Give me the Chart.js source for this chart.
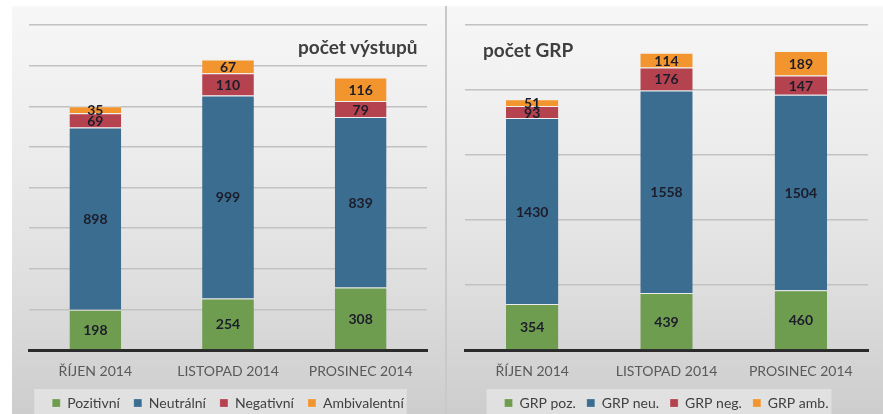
<!DOCTYPE html>
<html>
<head>
<meta charset="utf-8">
<script src="https://cdn.jsdelivr.net/npm/chart.js@4.4.1/dist/chart.umd.min.js"></script>
<style>
  html, body { margin: 0; padding: 0; background: #fff; }
  body { width: 883px; height: 414px; position: relative; overflow: hidden; font-family: Lato, "Open Sans", sans-serif; }
  .panel {
    position: absolute; top: 6px; height: 408px;
    background: linear-gradient(to bottom, #f7f7f7 0%, #ececec 35%, #e0e0e0 65%, #cdcdcd 100%);
  }
  #panelLeft { left: 12px; width: 433px; }
  #panelRight { left: 447px; width: 436px; }
  #divider { position: absolute; left: 445px; top: 6px; width: 2px; height: 408px; background: #c9c9c9; }
  .ttl { position: absolute; font-weight: bold; font-size: 19px; color: #3f3f3f; }
</style>
</head>
<body>
<div id="panelLeft" class="panel"><canvas id="vystupyChart" width="433" height="408"></canvas></div>
<div id="divider"></div>
<div id="panelRight" class="panel"><canvas id="grpChart" width="436" height="408"></canvas></div>
<div class="ttl" style="left:298px; top:35px;">počet výstupů</div>
<div class="ttl" style="left:483px; top:38px;">počet GRP</div>
<script>
const months = ['ŘÍJEN 2014', 'LISTOPAD 2014', 'PROSINEC 2014'];

// počet výstupů
const pozitivni = [198, 254, 308];
const neutralni = [898, 999, 839];
const negativni = [69, 110, 79];
const ambivalentni = [35, 67, 116];

// počet GRP
const grpPoz = [354, 439, 460];
const grpNeu = [1430, 1558, 1504];
const grpNeg = [93, 176, 147];
const grpAmb = [51, 114, 189];

const cGreen = '#6e9d4f';
const cBlue = '#3a6d90';
const cRed = '#b5424f';
const cOrange = '#f2952f';

const fontFam = 'Lato, "Open Sans", sans-serif';

// numbers in the middle of each segment
const valueLabels = {
    id: 'valueLabels',
    afterDatasetsDraw(chart) {
        const ctx = chart.ctx;
        ctx.save();
        ctx.font = 'bold 14px ' + fontFam;
        ctx.textAlign = 'center';
        ctx.textBaseline = 'middle';
        ctx.fillStyle = '#1c1c2a';
        chart.data.datasets.forEach((ds, i) => {
            const meta = chart.getDatasetMeta(i);
            meta.data.forEach((bar, j) => {
                const p = bar.getProps(['x', 'y', 'base'], true);
                ctx.fillText(ds.data[j], p.x, (p.y + p.base) / 2 + 1);
            });
        });
        ctx.restore();
    }
};

// lighter box behind the legend
const legendBox = {
    id: 'legendBox',
    beforeDraw(chart) {
        const lg = chart.legend;
        if (!lg || !lg.legendHitBoxes.length) return;
        const hb = lg.legendHitBoxes;
        const x0 = hb[0].left - 18;
        const x1 = hb[hb.length - 1].left + hb[hb.length - 1].width + 3;
        const y0 = hb[0].top - 7;
        const ctx = chart.ctx;
        ctx.save();
        ctx.fillStyle = 'rgba(236,236,236,0.6)';
        ctx.fillRect(x0, y0, x1 - x0, chart.height - y0);
        ctx.restore();
    }
};

function makeChart(id, labels, sets, yMax, yStep, pad, legendPad) {
    return new Chart(document.getElementById(id), {
        type: 'bar',
        data: {
            labels: labels,
            datasets: sets.map(s => ({
                label: s[0],
                data: s[1],
                backgroundColor: s[2],
                borderColor: 'rgba(240,240,240,0.8)',
                borderWidth: { top: 1, left: 0, right: 0, bottom: 0 },
                borderSkipped: false,
                categoryPercentage: 1,
                barPercentage: 0.39
            }))
        },
        options: {
            responsive: false,
            animation: false,
            layout: { padding: { left: pad[0], right: pad[1], top: 19, bottom: -6 } },
            scales: {
                x: {
                    stacked: true,
                    grid: { display: false, drawTicks: false },
                    border: { display: true, color: '#2b2b2b', width: 3 },
                    ticks: { color: '#595959', font: { size: 14, family: fontFam }, padding: 13 },
                    afterFit(scale) { scale.height = 46 - legendPad; }
                },
                y: {
                    stacked: true,
                    min: 0,
                    max: yMax,
                    ticks: { display: false, stepSize: yStep },
                    grid: { color: '#c2c2c2', lineWidth: 1.5, drawTicks: false },
                    border: { display: false },
                    afterFit(scale) { scale.width = 0; }
                }
            },
            plugins: {
                legend: {
                    position: 'bottom',
                    labels: {
                        boxWidth: 8, boxHeight: 8, padding: legendPad,
                        color: '#404040',
                        font: { size: 14, family: fontFam }
                    }
                },
                tooltip: { enabled: false }
            }
        },
        plugins: [valueLabels, legendBox]
    });
}

makeChart('vystupyChart', months, [
    ['Pozitivní', pozitivni, cGreen],
    ['Neutrální', neutralni, cBlue],
    ['Negativní', negativni, cRed],
    ['Ambivalentní', ambivalentni, cOrange]
], 1600, 200, [17, 18], 14);

makeChart('grpChart', months, [
    ['GRP poz.', grpPoz, cGreen],
    ['GRP neu.', grpNeu, cBlue],
    ['GRP neg.', grpNeg, cRed],
    ['GRP amb.', grpAmb, cOrange]
], 2500, 500, [18, 15], 11);
</script>
</body>
</html>
